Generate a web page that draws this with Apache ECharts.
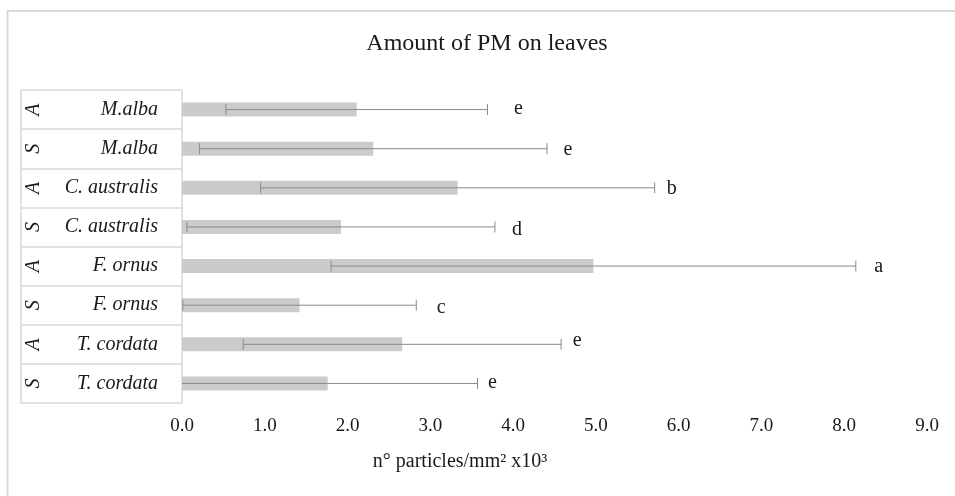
<!DOCTYPE html>
<html>
<head>
<meta charset="utf-8">
<script src="https://cdn.jsdelivr.net/npm/echarts@6/dist/echarts.min.js"></script>
<style>
  html, body { margin: 0; padding: 0; background: #ffffff; }
  #chart { width: 955px; height: 496px; }
</style>
</head>
<body>
<div id="chart"></div>
<script>
// Rows, top to bottom: exposure group and species
const groups  = ['A', 'S', 'A', 'S', 'A', 'S', 'A', 'S'];
const species = ['M.alba', 'M.alba', 'C. australis', 'C. australis', 'F. ornus', 'F. ornus', 'T. cordata', 'T. cordata'];
// Mean particle density (n°/mm² x10³) and standard deviation per row
const means = [2.11, 2.31, 3.33, 1.92, 4.97, 1.42, 2.66, 1.76];
const sds   = [1.58, 2.10, 2.38, 1.86, 3.17, 1.41, 1.92, 1.81];
// Significance letters (post-hoc groups)
const letters = ['e', 'e', 'b', 'd', 'a', 'c', 'e', 'e'];
// Value axis ticks
const xTickValues = [0, 1, 2, 3, 4, 5, 6, 7, 8, 9];

const rowKeys = groups.map((g, i) => g + ' ' + species[i]);
const errData = means.map((m, i) => [m - sds[i], m + sds[i], i]);

// Small pixel nudges for the letters beside each error bar
const letterDx = [31, 21, 17, 22, 23, 25, 16, 15];
const letterDy = [-1, 1, 1, 3, 1, 3, -4, -1];

const serif = 'Liberation Serif';
const ink = '#1a1a1a';
const rule = '#d9d9d9';

const chart = echarts.init(document.getElementById('chart'), null, { renderer: 'canvas' });

chart.setOption({
  animation: false,
  backgroundColor: '#ffffff',
  grid: { left: 182, right: 28, top: 90, bottom: 93 },
  graphic: [
    {
      type: 'rect', silent: true, z: -10,
      shape: { x: 7.5, y: 11, width: 1200, height: 800 },
      style: { fill: 'none', stroke: rule, lineWidth: 2 }
    },
    {
      type: 'text', silent: true,
      x: 487, y: 44,
      style: {
        text: 'Amount of PM on leaves',
        font: '24px "' + serif + '"',
        fill: ink, textAlign: 'center', textVerticalAlign: 'middle'
      }
    },
    {
      type: 'text', silent: true,
      x: 460, y: 462,
      style: {
        text: 'n° particles/mm² x10³',
        font: '20px "' + serif + '"',
        fill: ink, textAlign: 'center', textVerticalAlign: 'middle'
      }
    }
  ],
  xAxis: {
    type: 'value',
    min: xTickValues[0],
    max: xTickValues[xTickValues.length - 1],
    interval: 1,
    axisLine: { show: false },
    axisTick: { show: false },
    splitLine: { show: false },
    axisLabel: {
      showMinLabel: true, showMaxLabel: true,
      formatter: v => v.toFixed(1),
      fontFamily: serif, fontSize: 19, color: ink, margin: 14
    }
  },
  yAxis: [
    {
      type: 'category',
      data: rowKeys,
      inverse: true,
      position: 'left',
      axisLine: { show: true, lineStyle: { color: rule, width: 1.5 } },
      axisTick: { show: true, interval: 0, length: 161, lineStyle: { color: rule, width: 1.5 } },
      axisLabel: {
        interval: 0, margin: 24,
        formatter: (v, i) => species[i],
        fontFamily: serif, fontStyle: 'italic', fontSize: 20, color: ink
      },
      splitLine: { show: false }
    },
    {
      type: 'category',
      data: rowKeys,
      inverse: true,
      position: 'left',
      offset: 161,
      axisLine: { show: true, lineStyle: { color: rule, width: 1.5 } },
      axisTick: { show: false },
      axisLabel: {
        interval: 0, inside: true, rotate: 90, margin: 3,
        formatter: (v, i) => groups[i],
        fontFamily: serif, fontStyle: 'italic', fontSize: 20, color: ink
      },
      splitLine: { show: false }
    }
  ],
  series: [
    {
      type: 'bar',
      yAxisIndex: 0,
      data: means,
      barWidth: 14,
      itemStyle: { color: '#cbcbcb' },
      z: 2
    },
    {
      type: 'custom',
      yAxisIndex: 0,
      data: errData,
      encode: { x: [0, 1], y: 2 },
      z: 3,
      renderItem: function (params, api) {
        const i = params.dataIndex;
        const lo = api.value(0), hi = api.value(1), row = api.value(2);
        const pLo = api.coord([Math.max(lo, 0), row]);
        const pHi = api.coord([hi, row]);
        const cap = 5.5;
        const line = { stroke: '#8a8a8a', lineWidth: 1 };
        const children = [
          { type: 'line', shape: { x1: pLo[0], y1: pLo[1], x2: pHi[0], y2: pHi[1] }, style: line },
          { type: 'line', shape: { x1: pHi[0], y1: pHi[1] - cap, x2: pHi[0], y2: pHi[1] + cap }, style: line },
          {
            type: 'text',
            x: pHi[0] + letterDx[i], y: pHi[1] + letterDy[i],
            style: {
              text: letters[i], font: '20px "' + serif + '"', fill: ink,
              textAlign: 'center', textVerticalAlign: 'middle'
            }
          }
        ];
        if (lo >= 0) {
          children.push({ type: 'line', shape: { x1: pLo[0], y1: pLo[1] - cap, x2: pLo[0], y2: pLo[1] + cap }, style: line });
        }
        return { type: 'group', children: children };
      }
    }
  ]
});
</script>
</body>
</html>
